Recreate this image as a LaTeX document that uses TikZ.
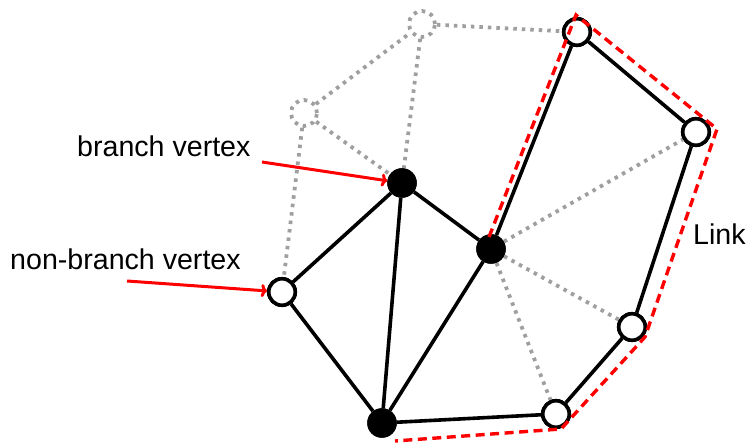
\documentclass[tikz,border=0pt]{standalone}
\usepackage{fontspec}
\setmainfont{Liberation Sans}
\usetikzlibrary{arrows.meta}
\begin{document}
\begin{tikzpicture}[x=1pt,y=-1pt,
  whitev/.style={circle,draw=black,fill=white,line width=3.6pt,minimum size=26.5pt,inner sep=0pt},
  blackv/.style={circle,fill=black,minimum size=29.5pt,inner sep=0pt},
  ghostv/.style={circle,draw=gray!75,line width=3.8pt,dash pattern=on 3.5pt off 5pt,minimum size=26pt,inner sep=0pt},
  edge/.style={line width=3.6pt,black},
  ghost/.style={line width=3.8pt,gray!75,dash pattern=on 3.5pt off 5pt},
  linkline/.style={line width=3.4pt,red,dash pattern=on 9pt off 5.5pt},
  pointer/.style={line width=3pt,red,-{To[length=6pt,width=13pt]}},
  lbl/.style={font=\fontsize{28.6}{34}\selectfont,inner sep=0pt,anchor=base west}]
\useasboundingbox (0,0) rectangle (748,443);
% vertices
\node[ghostv] (A) at (304,113) {};
\node[ghostv] (B) at (422,24) {};
\node[whitev] (C) at (577,32) {};
\node[whitev] (D) at (696,132) {};
\node[blackv] (E) at (491,249) {};
\node[whitev] (F) at (632,327) {};
\node[whitev] (G) at (556,414) {};
\node[blackv] (H) at (382,423) {};
\node[blackv] (I) at (402,183) {};
\node[whitev] (J) at (282,292) {};
% dotted (removed) edges
\draw[ghost] (A) -- (B);
\draw[ghost] (A) -- (J);
\draw[ghost] (A) -- (I);
\draw[ghost] (B) -- (I);
\draw[ghost] (B) -- (C);
\draw[ghost] (E) -- (D);
\draw[ghost] (E) -- (F);
\draw[ghost] (E) -- (G);
% solid edges
\draw[edge] (J) -- (I);
\draw[edge] (J) -- (H);
\draw[edge] (I) -- (H);
\draw[edge] (I) -- (E);
\draw[edge] (E) -- (H);
\draw[edge] (H) -- (G);
\draw[edge] (G) -- (F);
\draw[edge] (F) -- (D);
\draw[edge] (D) -- (C);
\draw[edge] (C) -- (E);
% redraw vertices over edges
\node[whitev] at (C) {};
\node[whitev] at (D) {};
\node[whitev] at (F) {};
\node[whitev] at (G) {};
\node[whitev] at (J) {};
\node[blackv] at (E) {};
\node[blackv] at (H) {};
\node[blackv] at (I) {};
% link outline
\coordinate (l0) at (489,237);
\coordinate (l1) at (576,15);
\coordinate (l2) at (717,129);
\coordinate (l3) at (645,337);
\coordinate (l4) at (561,429);
\coordinate (l5) at (395,441);
\draw[linkline] (l0) -- (l1) -- (l2) -- (l3) -- (l4) -- (l5);
% labels
\node[lbl] (bv) at (77,157) {branch vertex};
\node[lbl] (nbv) at (10,270) {non-branch vertex};
\node[lbl] (lk) at (693,245) {Link};
\coordinate (bvtail) at (262,162);
\coordinate (nbvtail) at (127,281);
\draw[pointer] (bvtail) -- (I);
\draw[pointer] (nbvtail) -- (J);
\end{tikzpicture}
\end{document}
